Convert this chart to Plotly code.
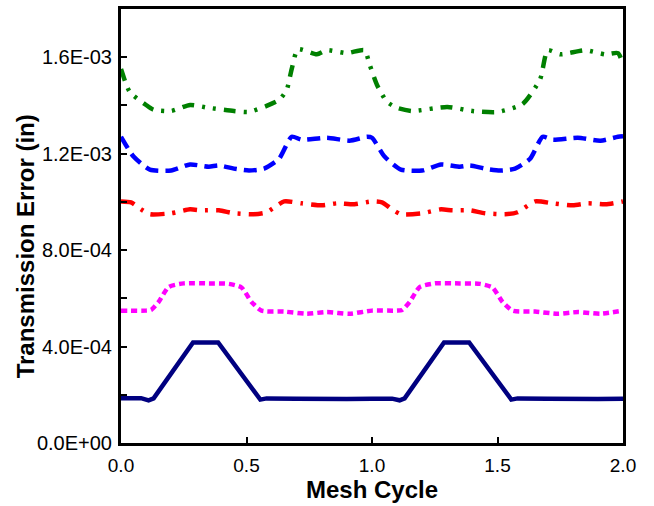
import plotly.graph_objects as go

# ---- data ----
navy_x = [0.0, 0.08, 0.11, 0.13, 0.287, 0.387, 0.555, 0.58, 0.7, 0.8, 0.9, 1.0,
          1.08, 1.11, 1.13, 1.287, 1.387, 1.555, 1.58, 1.7, 1.8, 1.9, 2.0]
navy_y = [1.86e-4, 1.86e-4, 1.77e-4, 1.85e-4, 4.17e-4, 4.17e-4, 1.80e-4, 1.85e-4, 1.84e-4, 1.82e-4, 1.82e-4, 1.84e-4,
          1.84e-4, 1.77e-4, 1.85e-4, 4.17e-4, 4.17e-4, 1.80e-4, 1.85e-4, 1.84e-4, 1.82e-4, 1.82e-4, 1.84e-4]

magenta_x = [0.0, 0.1, 0.12, 0.15, 0.19, 0.25, 0.35, 0.43, 0.48, 0.52, 0.56, 0.65, 0.74, 0.82, 0.91, 1.0,
             1.1, 1.12, 1.15, 1.19, 1.25, 1.35, 1.43, 1.48, 1.52, 1.56, 1.65, 1.74, 1.82, 1.91, 2.0]
magenta_y = [5.49e-4, 5.49e-4, 5.52e-4, 5.85e-4, 6.47e-4, 6.62e-4, 6.62e-4, 6.60e-4, 6.45e-4, 5.85e-4, 5.49e-4,
             5.45e-4, 5.36e-4, 5.43e-4, 5.36e-4, 5.49e-4,
             5.49e-4, 5.52e-4, 5.85e-4, 6.47e-4, 6.62e-4, 6.62e-4, 6.60e-4, 6.45e-4, 5.85e-4, 5.49e-4,
             5.45e-4, 5.36e-4, 5.43e-4, 5.36e-4, 5.49e-4]

red_x = [0.0, 0.04, 0.08, 0.115, 0.2, 0.275, 0.32, 0.39, 0.45, 0.53, 0.58, 0.65, 0.72, 0.8, 0.86, 0.93, 1.0,
         1.04, 1.08, 1.115, 1.2, 1.275, 1.32, 1.39, 1.45, 1.53, 1.58, 1.65, 1.72, 1.8, 1.86, 1.93, 2.0]
red_y = [10.02e-4, 9.98e-4, 9.69e-4, 9.49e-4, 9.53e-4, 9.69e-4, 9.65e-4, 9.65e-4, 9.53e-4, 9.49e-4, 9.57e-4,
         10.02e-4, 9.94e-4, 9.86e-4, 9.94e-4, 9.90e-4, 10.02e-4,
         9.98e-4, 9.69e-4, 9.49e-4, 9.53e-4, 9.69e-4, 9.65e-4, 9.65e-4, 9.53e-4, 9.49e-4, 9.57e-4,
         10.02e-4, 9.94e-4, 9.86e-4, 9.94e-4, 9.90e-4, 10.02e-4]

blue_x = [0.0, 0.05, 0.115, 0.2, 0.275, 0.35, 0.39, 0.45, 0.51, 0.57, 0.63, 0.68, 0.72, 0.82, 0.91, 0.98,
          1.0, 1.05, 1.115, 1.2, 1.275, 1.35, 1.39, 1.45, 1.51, 1.57, 1.63, 1.68, 1.72, 1.82, 1.91, 1.98, 2.0]
blue_y = [12.70e-4, 11.88e-4, 11.34e-4, 11.30e-4, 11.55e-4, 11.46e-4, 11.51e-4, 11.38e-4, 11.30e-4, 11.38e-4,
          11.79e-4, 12.70e-4, 12.58e-4, 12.66e-4, 12.54e-4, 12.70e-4,
          12.66e-4, 11.88e-4, 11.34e-4, 11.30e-4, 11.55e-4, 11.46e-4, 11.51e-4, 11.38e-4, 11.30e-4, 11.38e-4,
          11.79e-4, 12.70e-4, 12.58e-4, 12.66e-4, 12.54e-4, 12.70e-4, 12.72e-4]

green_x = [0.0, 0.035, 0.1, 0.13, 0.2, 0.275, 0.35, 0.45, 0.51, 0.58, 0.63, 0.66, 0.68, 0.705, 0.78, 0.82,
           0.9, 0.97, 0.99, 1.02, 1.06, 1.1, 1.16, 1.3, 1.4, 1.5, 1.6, 1.67, 1.70, 1.75, 1.85, 1.93, 1.98, 2.0]
green_y = [15.51e-4, 14.56e-4, 14.02e-4, 13.82e-4, 13.77e-4, 14.02e-4, 13.90e-4, 13.77e-4, 13.73e-4, 13.98e-4,
           14.23e-4, 14.64e-4, 15.51e-4, 16.33e-4, 16.12e-4, 16.29e-4, 16.17e-4, 16.29e-4, 15.71e-4,
           14.85e-4, 14.15e-4, 13.90e-4, 13.77e-4, 13.94e-4, 13.77e-4, 13.73e-4, 14.06e-4, 15.09e-4,
           16.29e-4, 16.12e-4, 16.29e-4, 16.12e-4, 16.17e-4, 15.71e-4]

x_ticks = [0.0, 0.5, 1.0, 1.5, 2.0]
x_ticktext = ["0.0", "0.5", "1.0", "1.5", "2.0"]
y_ticks = [0.0, 4.0e-4, 8.0e-4, 1.2e-3, 1.6e-3]
y_ticktext = ["0.0E+00", "4.0E-04", "8.0E-04", "1.2E-03", "1.6E-03"]

x_title = "Mesh Cycle"
y_title = "Transmission Error (in)"

FONT = "Liberation Sans, Arial, sans-serif"

fig = go.Figure()
fig.add_trace(go.Scatter(x=navy_x, y=navy_y, mode="lines",
                         line=dict(color="#000080", width=4.5), showlegend=False))
fig.add_trace(go.Scatter(x=magenta_x, y=magenta_y, mode="lines",
                         line=dict(color="#FF00FF", width=4.5, dash="6px,4px", shape="spline", smoothing=0.6),
                         showlegend=False))
fig.add_trace(go.Scatter(x=red_x, y=red_y, mode="lines",
                         line=dict(color="#FF0000", width=4.5, dash="14px,8px,3px,8px", shape="spline", smoothing=0.6),
                         showlegend=False))
fig.add_trace(go.Scatter(x=blue_x, y=blue_y, mode="lines",
                         line=dict(color="#0000FF", width=4.5, dash="13px,7px", shape="spline", smoothing=0.6),
                         showlegend=False))
fig.add_trace(go.Scatter(x=green_x, y=green_y, mode="lines",
                         line=dict(color="#008000", width=4.5, dash="12px,8px,3px,8px,3px,8px", shape="spline", smoothing=0.6),
                         showlegend=False))

fig.update_layout(
    width=654, height=506,
    margin=dict(l=121, r=31, t=6, b=63),
    paper_bgcolor="white", plot_bgcolor="white",
    font=dict(family=FONT, color="black", size=19),
    xaxis=dict(range=[0, 2], tickvals=x_ticks, ticktext=x_ticktext,
               ticks="inside", ticklen=6, tickwidth=2, tickcolor="black",
               showline=True, linewidth=3, linecolor="black", mirror=True,
               showgrid=False, zeroline=False, ticklabelstandoff=3,
               tickfont=dict(size=19, family=FONT),
               title=dict(text="<b>" + x_title + "</b>", font=dict(size=24, family=FONT), standoff=2)),
    yaxis=dict(range=[0, 1.8e-3], tickvals=y_ticks, ticktext=y_ticktext,
               ticks="inside", ticklen=6, tickwidth=2, tickcolor="black",
               minor=dict(dtick=2e-4, tick0=0, ticks="inside", ticklen=6, tickwidth=2, tickcolor="black"),
               showline=True, linewidth=3, linecolor="black", mirror=True,
               showgrid=False, zeroline=False, ticklabelstandoff=2,
               tickfont=dict(size=20, family=FONT)),
    annotations=[dict(text="<b>" + y_title + "</b>", textangle=-90,
                      xref="paper", yref="paper", x=(25 - 121) / 502, y=(443 - 245) / 437,
                      xanchor="center", yanchor="middle", showarrow=False,
                      font=dict(size=24, family=FONT, color="black"))],
)

fig.write_html("out.html")
